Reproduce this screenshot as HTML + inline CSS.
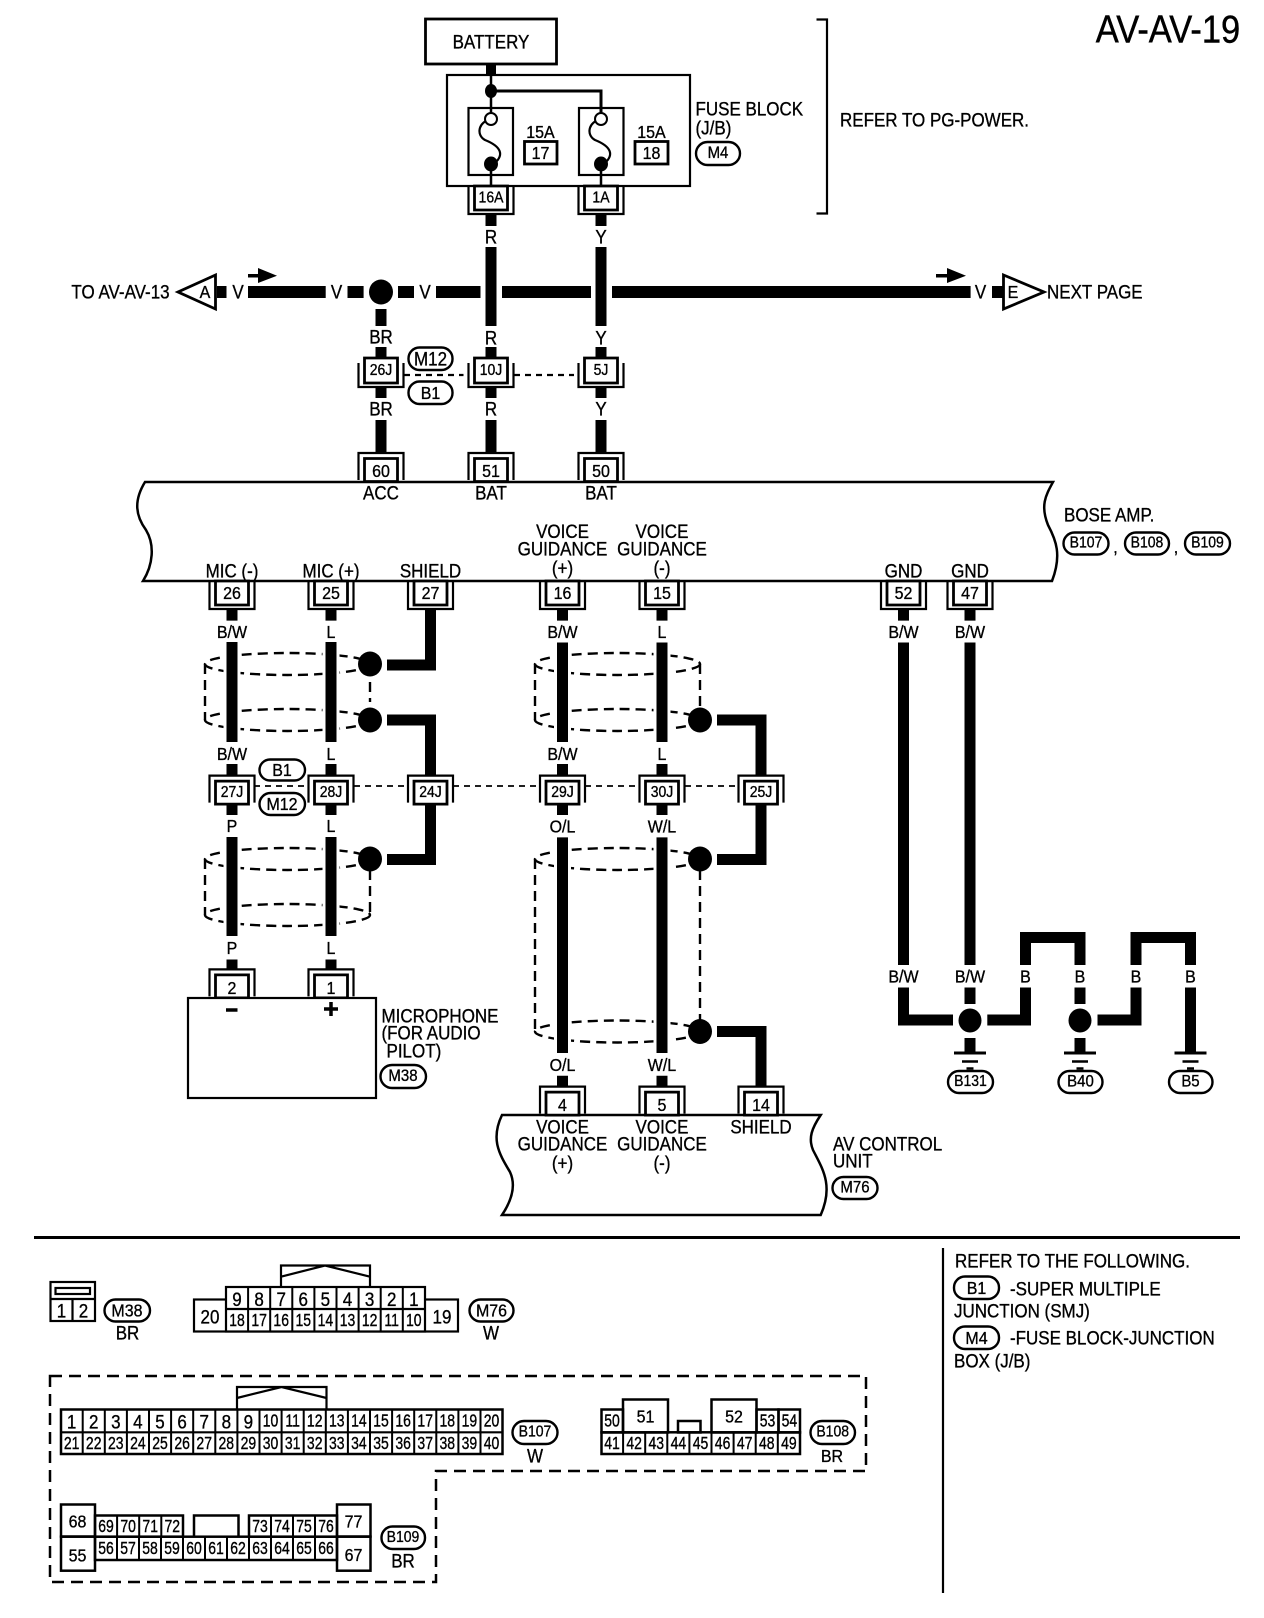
<!DOCTYPE html>
<html lang="en">
<head>
<meta charset="utf-8">
<title>AV-AV-19</title>
<style>
html,body{margin:0;padding:0;background:#fff}
svg{display:block;stroke-width:2.2}
text{font-family:"Liberation Sans",sans-serif;font-size:17px;text-anchor:middle;dominant-baseline:central;fill:#000;stroke:#000;stroke-width:.3px;transform-box:fill-box;transform-origin:center;transform:scaleY(1.12)}
.l{text-anchor:start}
.j{font-size:14px}
.n{font-size:16px}
.p{font-size:15px}
.c{font-size:14px;transform:scaleY(1.25)}
.d{font-size:17px;transform:scaleY(1.15)}
.t{font-size:34.5px;stroke-width:.4px}
.s{fill:none;stroke:#000}
.w{fill:none;stroke:#000}
.h{fill:none;stroke:#000;stroke-width:2.4;stroke-dasharray:10 6}
.pl{fill:#fff;stroke:#000;stroke-width:2.4}
</style>
</head>
<body>
<svg xmlns="http://www.w3.org/2000/svg" width="1264" height="1618" viewBox="0 0 1264 1618">
<defs>
<g id="d" class="s"><path d="M-16.5 0H16.5V24H-16.5Z" fill="#fff" stroke-width="2.8"/><path d="M-22.5 0V28H22.5V0"/></g>
<g id="dj" class="s"><path d="M-16.5 0H16.5V25H-16.5Z" fill="#fff" stroke-width="2.8"/><path d="M-22.5 5V29H22.5V5"/></g>
<g id="u" class="s"><path d="M-22.5 27V0H22.5V27"/><path d="M-16.5 28.5V5.5H16.5V28.5Z" fill="#fff" stroke-width="2.8"/></g>
<g id="g" class="s"><path d="M-16 0H16" stroke-width="3"/><path d="M-8 8.5H8" stroke-width="2.5"/><path d="M-3.5 15.5H3.5" stroke-width="2.5"/></g>
</defs>

<text class="t" x="1168" y="29.5">AV-AV-19</text>

<!-- top block -->
<rect class="s" x="425.5" y="19" width="131" height="45" stroke-width="2.8"/>
<text x="491" y="42">BATTERY</text>
<rect class="s" x="447" y="75" width="243" height="111"/>
<path class="w" d="M491 64V75" stroke-width="10"/>
<path class="s" d="M491 75V113" stroke-width="2.5"/>
<path class="s" d="M491 91H601V113" stroke-width="3"/>
<ellipse cx="491" cy="91" rx="6" ry="7"/>
<rect class="s" x="468.5" y="108" width="44.5" height="67"/>
<rect class="s" x="579" y="108" width="44.5" height="67"/>
<path class="s" d="M491 119C478 122,476 135,485 140C500 146,507 155,491 166"/>
<path class="s" d="M601 119C588 122,586 135,595 140C610 146,617 155,601 166"/>
<circle cx="491" cy="119" r="6" fill="#fff" stroke="#000" stroke-width="2"/>
<circle cx="601" cy="119" r="6" fill="#fff" stroke="#000" stroke-width="2"/>
<ellipse cx="491" cy="164" rx="7" ry="7.5"/>
<ellipse cx="601" cy="164" rx="7" ry="7.5"/>
<path class="s" d="M491 170V186M601 170V186" stroke-width="2.5"/>
<text x="540.5" y="132" class="n">15A</text>
<rect class="s" x="524.5" y="141.5" width="32.5" height="22.5" stroke-width="2.8"/>
<text x="540.5" y="153" class="n">17</text>
<text x="651.5" y="132" class="n">15A</text>
<rect class="s" x="635" y="141.5" width="33" height="22.5" stroke-width="2.8"/>
<text x="651.5" y="153" class="n">18</text>
<text x="695.5" y="109" class="l">FUSE BLOCK</text>
<text x="695.5" y="128" class="l">(J/B)</text>
<rect class="pl" x="696" y="142" width="44" height="23" rx="11.5"/>
<text x="718" y="153.5" class="p">M4</text>
<path class="s" d="M816.5 19.5H827V213.5H816.5"/>
<text x="840" y="120" class="l">REFER TO PG-POWER.</text>

<!-- V line -->
<path class="w" stroke-width="12" d="M217 292H226.5M248 292H325.7M347.5 292H363.6M398 292H414M436 292H480.5M502 292H591M612 292H970.6M992 292H1003"/>
<path class="w" stroke-width="11" d="M491 214V226M491 247V326M491 347V358M491 387V398M491 420V453M601 214V226M601 247V326M601 347V358M601 387V398M601 420V453M381 309V326M381 347V358M381 387V398M381 420V453"/>
<ellipse cx="381" cy="292" rx="12" ry="12.5"/>
<path class="s" stroke-width="3.5" d="M248 275.7H262M936 275.7H950"/>
<path d="M258 268L277 275.7L258 283ZM947 268L966 275.7L947 283Z"/>
<text x="120.5" y="292">TO AV-AV-13</text>
<path class="s" style="fill:#fff" d="M215.5 275L178 292L215.5 309Z" stroke-width="2.8"/>
<text x="205" y="292" class="n">A</text>
<text x="238" y="292">V</text>
<text x="336.6" y="292">V</text>
<text x="425" y="292">V</text>
<text x="980.6" y="292">V</text>
<path class="s" d="M1003.5 275L1044 292L1003.5 309Z" stroke-width="2.8"/>
<text x="1013" y="292" class="n">E</text>
<text x="1047" y="292" class="l">NEXT PAGE</text>

<text x="491" y="237">R</text>
<text x="601" y="237">Y</text>
<text x="381" y="337">BR</text>
<text x="491" y="338">R</text>
<text x="601" y="338">Y</text>
<text x="381" y="409">BR</text>
<text x="491" y="409">R</text>
<text x="601" y="409">Y</text>

<use href="#d" x="491" y="186"/><use href="#d" x="601" y="186"/>
<text x="491" y="198.5" class="j">16A</text>
<text x="601" y="198.5" class="j">1A</text>
<use href="#dj" x="381" y="358"/><use href="#dj" x="491" y="358"/><use href="#dj" x="601" y="358"/>
<text x="381" y="371" class="j">26J</text>
<text x="491" y="371" class="j">10J</text>
<text x="601" y="371" class="j">5J</text>
<path class="s" stroke-width="2.2" stroke-dasharray="6 5" d="M404 375H463.5M514 375H574"/>
<rect class="pl" x="408.5" y="347.5" width="44" height="22.5" rx="11"/>
<text x="430.5" y="359">M12</text>
<rect class="pl" x="408.5" y="381.5" width="44" height="22.5" rx="11"/>
<text x="430.5" y="393" class="n">B1</text>

<!-- Bose amp -->
<path class="s" stroke-width="2.5" d="M1053 482C1046 495,1040 505,1048 525C1056 540,1062 555,1052 581H143C153 565,155 545,146 530C135 515,134 500,145 482Z"/>
<use href="#u" x="381" y="453"/><use href="#u" x="491" y="453"/><use href="#u" x="601" y="453"/>
<text x="381" y="471" class="n">60</text>
<text x="491" y="471" class="n">51</text>
<text x="601" y="471" class="n">50</text>
<text x="381" y="493">ACC</text>
<text x="491" y="493">BAT</text>
<text x="601" y="493">BAT</text>
<text x="232" y="571">MIC (-)</text>
<text x="331" y="571">MIC (+)</text>
<text x="430.5" y="571">SHIELD</text>
<text x="562.5" y="531.5">VOICE</text>
<text x="562.5" y="549">GUIDANCE</text>
<text x="562.5" y="568">(+)</text>
<text x="662" y="531.5">VOICE</text>
<text x="662" y="549">GUIDANCE</text>
<text x="662" y="568">(-)</text>
<text x="903.5" y="571">GND</text>
<text x="970" y="571">GND</text>
<text x="1064" y="515" class="l">BOSE AMP.</text>
<rect class="pl" x="1063.5" y="532.5" width="45" height="22" rx="11"/>
<text x="1086" y="543.5" class="j">B107</text>
<text x="1115.5" y="547" class="n">,</text>
<rect class="pl" x="1125" y="532.5" width="44" height="22" rx="11"/>
<text x="1147" y="543.5" class="j">B108</text>
<text x="1176" y="547" class="n">,</text>
<rect class="pl" x="1185" y="532.5" width="45" height="22" rx="11"/>
<text x="1207.5" y="543.5" class="j">B109</text>

<!-- shields -->
<ellipse class="h" cx="287.5" cy="664" rx="82.5" ry="11"/>
<ellipse class="h" cx="287.5" cy="720" rx="82.5" ry="11"/>
<ellipse class="h" cx="287.5" cy="859" rx="82.5" ry="11"/>
<ellipse class="h" cx="287.5" cy="915" rx="82.5" ry="11"/>
<ellipse class="h" cx="617.5" cy="664" rx="82.5" ry="11"/>
<ellipse class="h" cx="617.5" cy="720" rx="82.5" ry="11"/>
<ellipse class="h" cx="617.5" cy="859" rx="82.5" ry="11"/>
<ellipse class="h" cx="617.5" cy="1031.5" rx="82.5" ry="11"/>
<path class="h" d="M205 664V720M205 859V915M370 682V702M370 870V915M535 664V720M535 859V1031.5M700 664V708M700 870V1020"/>
<path fill="none" stroke="#fff" stroke-width="17" d="M232 642V742M232 837V936M331 642V742M331 837V936M562.5 642.5V742M562.5 837.4V1053M662 642.5V742M662 837.4V1053"/>

<!-- lower wires -->
<path class="w" stroke-width="11" d="M232 609V620.6M232 642V742M232 764V775.6M232 804V815M232 837V936M232 959.5V969.4M331 609V620.6M331 642V742M331 764V775.6M331 804V815M331 837V936M331 959.5V969.4M430.5 609V665H387M387 720H430.5V775.6M430.5 804V859.5H387M562.5 609V620.6M562.5 642.5V742M562.5 764V776M562.5 804V815M562.5 837.4V1053M562.5 1075.7V1086.6M662 609V620.6M662 642.5V742M662 764V776M662 804V815M662 837.4V1053M662 1075.7V1086.6M717 720H761V776M761 804V859.5H717M717 1031.5H761V1086.6M903.5 609V620.6M903.5 642.5V965M903.5 987.5V1020H953M970 609V620.6M970 642.5V965M970 987.5V1004M970 1038V1053M987.3 1020H1025.5V987.5M1025.5 965V937.5H1080V965M1080 987.5V1004M1080 1038V1053M1097.5 1020H1136V987.5M1136 965V937.5H1190.5V965M1190.5 987.5V1053"/>
<ellipse cx="370" cy="664" rx="12" ry="12.5"/>
<ellipse cx="370" cy="720" rx="12" ry="12.5"/>
<ellipse cx="370" cy="859" rx="12" ry="12.5"/>
<ellipse cx="700" cy="720" rx="12" ry="12.5"/>
<ellipse cx="700" cy="859" rx="12" ry="12.5"/>
<ellipse cx="700" cy="1031.5" rx="12" ry="12.5"/>
<ellipse cx="970" cy="1020.5" rx="11.5" ry="12"/>
<ellipse cx="1080" cy="1020.5" rx="11.5" ry="12"/>
<use href="#g" x="970" y="1053"/><use href="#g" x="1080" y="1053"/><use href="#g" x="1190.5" y="1053"/>
<rect class="pl" x="948" y="1071" width="45" height="22" rx="11"/>
<text x="970.5" y="1082" class="j">B131</text>
<rect class="pl" x="1058.5" y="1071" width="44" height="22" rx="11"/>
<text x="1080.5" y="1082" class="p">B40</text>
<rect class="pl" x="1169" y="1071" width="43.5" height="22" rx="11"/>
<text x="1190.5" y="1082" class="p">B5</text>

<!-- connectors below body -->
<use href="#d" x="232" y="581"/><use href="#d" x="331" y="581"/><use href="#d" x="430.5" y="581"/><use href="#d" x="562.5" y="581"/><use href="#d" x="662" y="581"/><use href="#d" x="903.5" y="581"/><use href="#d" x="970" y="581"/>
<text x="232" y="593" class="n">26</text>
<text x="331" y="593" class="n">25</text>
<text x="430.5" y="593" class="n">27</text>
<text x="562.5" y="593" class="n">16</text>
<text x="662" y="593" class="n">15</text>
<text x="903.5" y="593" class="n">52</text>
<text x="970" y="593" class="n">47</text>

<text x="232" y="632" class="n">B/W</text>
<text x="331" y="632" class="n">L</text>
<text x="562.5" y="632" class="n">B/W</text>
<text x="662" y="632" class="n">L</text>
<text x="903.5" y="632" class="n">B/W</text>
<text x="970" y="632" class="n">B/W</text>
<text x="232" y="754" class="n">B/W</text>
<text x="331" y="754" class="n">L</text>
<text x="562.5" y="754" class="n">B/W</text>
<text x="662" y="754" class="n">L</text>

<path class="s" stroke-width="1.8" stroke-dasharray="6 5" d="M254 786H308M354 786H407M453 786H540.5M585 786H639M685 786H739"/>
<use href="#u" x="232" y="775.6"/><use href="#u" x="331" y="775.6"/><use href="#u" x="430.5" y="775.6"/><use href="#u" x="562.5" y="775.6"/><use href="#u" x="662" y="775.6"/><use href="#u" x="761" y="775.6"/>
<text x="232" y="793" class="j">27J</text>
<text x="331" y="793" class="j">28J</text>
<text x="430.5" y="793" class="j">24J</text>
<text x="562.5" y="793" class="j">29J</text>
<text x="662" y="793" class="j">30J</text>
<text x="761" y="793" class="j">25J</text>
<rect class="pl" x="259.5" y="759.5" width="45.5" height="21" rx="10.5"/>
<text x="282" y="770" class="n">B1</text>
<rect class="pl" x="259.5" y="793" width="45.5" height="22" rx="11"/>
<text x="282" y="804" class="n">M12</text>

<text x="232" y="826" class="n">P</text>
<text x="331" y="826" class="n">L</text>
<text x="562.5" y="826.5" class="n">O/L</text>
<text x="662" y="826.5" class="n">W/L</text>
<text x="232" y="948" class="n">P</text>
<text x="331" y="948" class="n">L</text>
<text x="562.5" y="1065" class="n">O/L</text>
<text x="662" y="1065" class="n">W/L</text>
<text x="903.5" y="976.5" class="n">B/W</text>
<text x="970" y="976.5" class="n">B/W</text>
<text x="1025.5" y="976.5" class="n">B</text>
<text x="1080" y="976.5" class="n">B</text>
<text x="1136" y="976.5" class="n">B</text>
<text x="1190.5" y="976.5" class="n">B</text>

<!-- microphone -->
<use href="#u" x="232" y="969.4"/><use href="#u" x="331" y="969.4"/>
<text x="232" y="988" class="n">2</text>
<text x="331" y="988" class="n">1</text>
<rect class="s" x="188" y="998" width="188" height="100" style="fill:#fff"/>
<path class="s" stroke-width="3.5" d="M226 1010H237.5M324 1009H338M331 1002V1016"/>
<text x="381.5" y="1016" class="l">MICROPHONE</text>
<text x="381.5" y="1033" class="l">(FOR AUDIO</text>
<text x="386.5" y="1051" class="l">PILOT)</text>
<rect class="pl" x="380.5" y="1065" width="45.5" height="23" rx="11.5"/>
<text x="403" y="1076.5" class="p">M38</text>

<!-- AV control unit -->
<path class="s" stroke-width="2.5" style="fill:#fff" d="M820.7 1115C812 1128,808 1138,813 1150C822 1168,834 1185,820.7 1215H502C512 1200,516 1185,510 1172C500 1155,490 1140,502 1115Z"/>
<use href="#u" x="562.5" y="1086.6"/><use href="#u" x="662" y="1086.6"/><use href="#u" x="761" y="1086.6"/>
<text x="562.5" y="1105" class="n">4</text>
<text x="662" y="1105" class="n">5</text>
<text x="761" y="1105" class="n">14</text>
<text x="562.5" y="1127">VOICE</text>
<text x="562.5" y="1144">GUIDANCE</text>
<text x="562.5" y="1163">(+)</text>
<text x="662" y="1127">VOICE</text>
<text x="662" y="1144">GUIDANCE</text>
<text x="662" y="1163">(-)</text>
<text x="761" y="1127">SHIELD</text>
<text x="833" y="1144" class="l">AV CONTROL</text>
<text x="833" y="1161" class="l">UNIT</text>
<rect class="pl" x="832.5" y="1177" width="45" height="22" rx="11"/>
<text x="855" y="1188" class="p">M76</text>

<!-- dividers -->
<path class="s" stroke-width="3" d="M34 1237.5H1240"/>
<path class="s" d="M943 1248V1593"/>
<text x="955" y="1261" class="l">REFER TO THE FOLLOWING.</text>
<rect class="pl" x="954" y="1276.5" width="45" height="22.5" rx="11"/>
<text x="976.5" y="1288" class="n">B1</text>
<text x="1010" y="1289" class="l">-SUPER MULTIPLE</text>
<text x="954" y="1311" class="l">JUNCTION (SMJ)</text>
<rect class="pl" x="954" y="1326.5" width="45" height="22.5" rx="11"/>
<text x="976.5" y="1338" class="n">M4</text>
<text x="1010" y="1338" class="l">-FUSE BLOCK-JUNCTION</text>
<text x="954" y="1361" class="l">BOX (J/B)</text>

<!-- M38 connector -->
<rect class="s" x="50.5" y="1282" width="44.5" height="39"/>
<path class="s" d="M50.5 1299H95M72.5 1299V1321"/>
<rect class="s" x="55.5" y="1288" width="34.5" height="6"/>
<text x="61.5" y="1310.5" class="d">1</text>
<text x="83.5" y="1310.5" class="d">2</text>
<rect class="pl" x="104.5" y="1299.5" width="45.5" height="22" rx="11"/>
<text x="127" y="1310.5" class="n">M38</text>
<text x="127.5" y="1333">BR</text>

<!-- M76 connector -->
<path class="s" d="M281 1286.7V1265.5H370V1286.7M281 1276.7L325 1265.5L370 1276.7"/>
<rect class="s" x="194" y="1299.5" width="264" height="32"/>
<rect class="s" x="226" y="1287" width="199" height="44.5" style="fill:#fff"/>
<path class="s" d="M226 1309H425"/>
<path fill="none" stroke="#000" stroke-width="45" stroke-dasharray="2 20.1" d="M247.1 1309.2H403.8"/>
<text x="210" y="1316.5" class="d">20</text>
<text x="442" y="1316.5" class="d">19</text>
<text x="237" y="1299" class="d">9</text><text x="259.1" y="1299" class="d">8</text><text x="281.2" y="1299" class="d">7</text><text x="303.3" y="1299" class="d">6</text><text x="325.4" y="1299" class="d">5</text><text x="347.5" y="1299" class="d">4</text><text x="369.6" y="1299" class="d">3</text><text x="391.7" y="1299" class="d">2</text><text x="413.8" y="1299" class="d">1</text>
<text x="237" y="1321" class="c">18</text><text x="259.1" y="1321" class="c">17</text><text x="281.2" y="1321" class="c">16</text><text x="303.3" y="1321" class="c">15</text><text x="325.4" y="1321" class="c">14</text><text x="347.5" y="1321" class="c">13</text><text x="369.6" y="1321" class="c">12</text><text x="391.7" y="1321" class="c">11</text><text x="413.8" y="1321" class="c">10</text>
<rect class="pl" x="469.5" y="1299.5" width="44" height="22" rx="11"/>
<text x="491.5" y="1310.5" class="n">M76</text>
<text x="491" y="1333">W</text>

<!-- dashed group -->
<path fill="none" stroke="#000" stroke-width="2.5" stroke-dasharray="12 7" d="M50 1376H866V1471H436V1582H50Z"/>

<!-- B107 -->
<path class="s" d="M237 1409V1387H326.5V1409M237 1398L281.5 1387L326.5 1398"/>
<rect class="s" stroke-width="2.5" x="61" y="1409.5" width="441.5" height="44.5"/>
<path class="s" d="M61 1432.3H502"/>
<path fill="none" stroke="#000" stroke-width="44.5" stroke-dasharray="2 20.1" d="M81.7 1431.7H481.5"/>
<g>
<text x="71.6" y="1421.5" class="d">1</text><text x="93.7" y="1421.5" class="d">2</text><text x="115.8" y="1421.5" class="d">3</text><text x="137.9" y="1421.5" class="d">4</text><text x="160" y="1421.5" class="d">5</text><text x="182.1" y="1421.5" class="d">6</text><text x="204.2" y="1421.5" class="d">7</text><text x="226.3" y="1421.5" class="d">8</text><text x="248.4" y="1421.5" class="d">9</text>
<text x="270.5" y="1421.5" class="c">10</text><text x="292.6" y="1421.5" class="c">11</text><text x="314.7" y="1421.5" class="c">12</text><text x="336.8" y="1421.5" class="c">13</text><text x="358.9" y="1421.5" class="c">14</text><text x="381" y="1421.5" class="c">15</text><text x="403.1" y="1421.5" class="c">16</text><text x="425.2" y="1421.5" class="c">17</text><text x="447.3" y="1421.5" class="c">18</text><text x="469.4" y="1421.5" class="c">19</text><text x="491.5" y="1421.5" class="c">20</text>
<text x="71.6" y="1444" class="c">21</text><text x="93.7" y="1444" class="c">22</text><text x="115.8" y="1444" class="c">23</text><text x="137.9" y="1444" class="c">24</text><text x="160" y="1444" class="c">25</text><text x="182.1" y="1444" class="c">26</text><text x="204.2" y="1444" class="c">27</text><text x="226.3" y="1444" class="c">28</text><text x="248.4" y="1444" class="c">29</text><text x="270.5" y="1444" class="c">30</text><text x="292.6" y="1444" class="c">31</text><text x="314.7" y="1444" class="c">32</text><text x="336.8" y="1444" class="c">33</text><text x="358.9" y="1444" class="c">34</text><text x="381" y="1444" class="c">35</text><text x="403.1" y="1444" class="c">36</text><text x="425.2" y="1444" class="c">37</text><text x="447.3" y="1444" class="c">38</text><text x="469.4" y="1444" class="c">39</text><text x="491.5" y="1444" class="c">40</text>
</g>
<rect class="pl" x="512.5" y="1421" width="45" height="23" rx="11.5"/>
<text x="535" y="1432.5" class="j">B107</text>
<text x="535" y="1456">W</text>

<!-- B108 -->
<rect class="s" stroke-width="2.5" x="601.5" y="1432.3" width="198.5" height="21.7"/>
<rect class="s" stroke-width="2.5" x="601.5" y="1409.5" width="21.5" height="23"/>
<rect class="s" stroke-width="2.5" x="623" y="1399.5" width="45" height="33"/>
<rect class="s" stroke-width="2.5" x="678" y="1421" width="22.5" height="11.5"/>
<rect class="s" stroke-width="2.5" x="711.5" y="1399.5" width="45" height="33"/>
<rect class="s" stroke-width="2.5" x="756.5" y="1409.5" width="22" height="23"/>
<rect class="s" stroke-width="2.5" x="778.5" y="1409.5" width="21.5" height="23"/>
<path fill="none" stroke="#000" stroke-width="21.7" stroke-dasharray="2 20.1" d="M622.1 1443H779"/>
<text x="612" y="1421.5" class="c">50</text>
<text x="645.5" y="1416.5" class="n">51</text>
<text x="734" y="1416.5" class="n">52</text>
<text x="767.5" y="1421.5" class="c">53</text>
<text x="789.4" y="1421.5" class="c">54</text>
<text x="612" y="1444" class="c">41</text><text x="634.2" y="1444" class="c">42</text><text x="656.3" y="1444" class="c">43</text><text x="678.4" y="1444" class="c">44</text><text x="700.5" y="1444" class="c">45</text><text x="722.6" y="1444" class="c">46</text><text x="744.7" y="1444" class="c">47</text><text x="766.8" y="1444" class="c">48</text><text x="788.9" y="1444" class="c">49</text>
<rect class="pl" x="810.5" y="1421" width="44.5" height="23" rx="11.5"/>
<text x="832.7" y="1432.5" class="j">B108</text>
<text x="832" y="1456" class="n">BR</text>

<!-- B109 -->
<rect class="s" stroke-width="2.5" x="61" y="1504.5" width="34" height="32"/>
<rect class="s" stroke-width="2.5" x="61" y="1536.7" width="34" height="34"/>
<rect class="s" stroke-width="2.5" x="337" y="1504.5" width="33.5" height="32"/>
<rect class="s" stroke-width="2.5" x="337" y="1536.7" width="33.5" height="34"/>
<rect class="s" stroke-width="2.5" x="95" y="1515.5" width="88" height="21.2"/>
<path class="s" stroke-width="2.5" d="M194 1536.7V1515.5H238.5V1536.7"/>
<rect class="s" stroke-width="2.5" x="249" y="1515.5" width="88" height="21.2"/>
<rect class="s" stroke-width="2.5" x="95" y="1536.7" width="242" height="23.3"/>
<path fill="none" stroke="#000" stroke-width="21.2" stroke-dasharray="2 20.1" d="M116.1 1526H162.3"/>
<path fill="none" stroke="#000" stroke-width="21.2" stroke-dasharray="2 20" d="M270 1526H316"/>
<path fill="none" stroke="#000" stroke-width="23.3" stroke-dasharray="2 20" d="M116 1548.3H316"/>
<text x="77.5" y="1521.5" class="n">68</text>
<text x="77.5" y="1555.5" class="n">55</text>
<text x="353.5" y="1521.5" class="n">77</text>
<text x="353.5" y="1555" class="n">67</text>
<text x="106" y="1527" class="c">69</text><text x="128.1" y="1527" class="c">70</text><text x="150.2" y="1527" class="c">71</text><text x="172.3" y="1527" class="c">72</text>
<text x="260" y="1527" class="c">73</text><text x="282" y="1527" class="c">74</text><text x="304" y="1527" class="c">75</text><text x="326" y="1527" class="c">76</text>
<text x="106" y="1549" class="c">56</text><text x="128" y="1549" class="c">57</text><text x="150" y="1549" class="c">58</text><text x="172" y="1549" class="c">59</text><text x="194" y="1549" class="c">60</text><text x="216" y="1549" class="c">61</text><text x="238" y="1549" class="c">62</text><text x="260" y="1549" class="c">63</text><text x="282" y="1549" class="c">64</text><text x="304" y="1549" class="c">65</text><text x="326" y="1549" class="c">66</text>
<rect class="pl" x="381.5" y="1526.5" width="43.5" height="22.5" rx="11"/>
<text x="403" y="1538" class="j">B109</text>
<text x="403" y="1561">BR</text>
</svg>
</body>
</html>
